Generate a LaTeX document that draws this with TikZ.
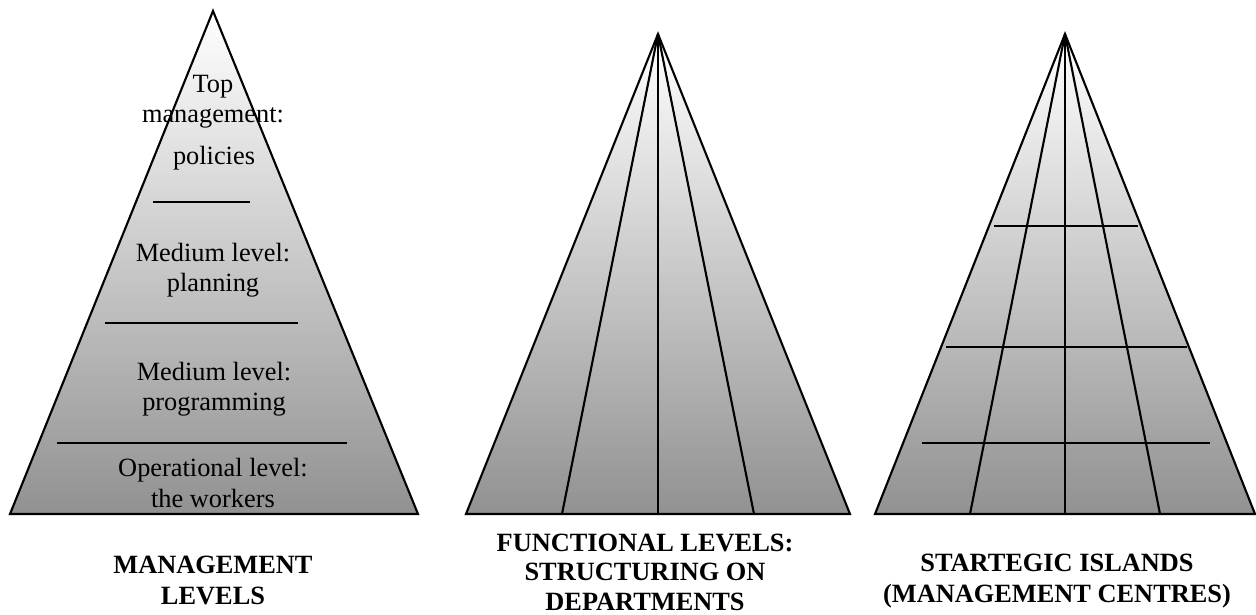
\documentclass[tikz,border=0pt]{standalone}
\usepackage{fontspec}
\setmainfont{Liberation Serif}
\begin{document}
\begin{tikzpicture}[line width=0.6pt,
  every node/.style={font=\fontsize{7.5}{8.6}\selectfont, align=center, inner sep=0pt},
  pyramid/.style={draw, top color=white, bottom color=black!43},
  caption/.style={font=\fontsize{7.5}{8.8}\selectfont\bfseries}]
  \useasboundingbox (0,0) rectangle (12.56,6.14);
  % management levels
  \coordinate (a1) at (2.13,6.03);
  \draw[pyramid] (0.10,1.00) -- (a1) -- (4.18,1.00) -- cycle;
  \foreach \y/\l/\r in {4.12/1.53/2.50, 2.91/1.05/2.98, 1.71/0.57/3.47}
    \draw (\l,\y) -- (\r,\y);
  \node (top) at (2.13,5.12) {Top\\management:};
  \node (pol) at (2.14,4.56) {policies};
  \node (plan) at (2.13,3.44) {Medium level:\\planning};
  \node (prog) at (2.14,2.25) {Medium level:\\programming};
  \node (work) at (2.13,1.31) {Operational level:\\the workers};
  % functional levels
  \coordinate (a2) at (6.58,5.80);
  \draw[pyramid] (4.66,1.00) -- (a2) -- (8.50,1.00) -- cycle;
  \foreach \x in {5.62,6.58,7.54}
    \draw (a2) -- (\x,1.00);
  % strategic islands
  \coordinate (a3) at (10.65,5.80);
  \draw[pyramid] (8.75,1.00) -- (a3) -- (12.55,1.00) -- cycle;
  \foreach \x in {9.70,10.65,11.60}
    \draw (a3) -- (\x,1.00);
  \foreach \y/\l/\r in {3.88/9.94/11.38, 2.67/9.46/11.87, 1.71/9.22/12.10}
    \draw (\l,\y) -- (\r,\y);
  % captions
  \node[caption] (cap1) at (2.13,0.34) {MANAGEMENT\\LEVELS};
  \node[caption, font=\fontsize{7.5}{8.4}\selectfont\bfseries] (cap2) at (6.45,0.42)
    {FUNCTIONAL LEVELS:\\STRUCTURING ON\\DEPARTMENTS};
  \node[caption] (cap3) at (10.57,0.33) {STARTEGIC ISLANDS\\(MANAGEMENT CENTRES)};
\end{tikzpicture}
\end{document}
